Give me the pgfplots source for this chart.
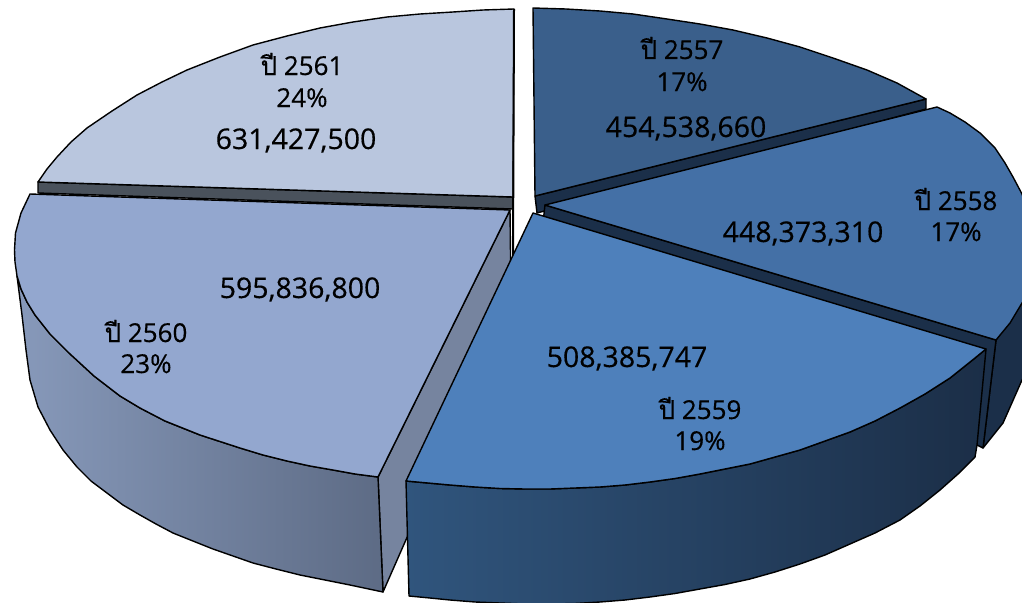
\documentclass[border=0pt]{standalone}
\usepackage{pgfplots}
\pgfplotsset{compat=1.18}
\usepackage{fontspec}
\setmainfont[FakeBold=0.4]{Open Sans}
\newfontfamily\thaifont[Script=Thai,FakeBold=0.4]{Loma}
\definecolor{topA}{HTML}{3A5F8B}
\definecolor{topB}{HTML}{4470A6}
\definecolor{topC}{HTML}{4E80BB}
\definecolor{topD}{HTML}{93A7CF}
\definecolor{topE}{HTML}{B9C6DE}
\definecolor{wallDark}{HTML}{1B2F49}
\definecolor{wallD}{HTML}{76849F}
\definecolor{wallE}{HTML}{4A525C}
\definecolor{sideCl}{HTML}{30557D}
\definecolor{sideCr}{HTML}{1B2E47}
\definecolor{sideDl}{HTML}{8799BA}
\definecolor{sideDr}{HTML}{5D6B85}
\newcommand{\lbl}[1]{\fontsize{28.5}{30}\selectfont #1}
\newcommand{\sml}[1]{\fontsize{26}{28}\selectfont #1}
\newcommand{\yr}[1]{\fontsize{26}{28}\selectfont{\thaifont ปี} #1}
\begin{document}
\begin{tikzpicture}
\useasboundingbox (0,0) rectangle (1022pt,602pt);
\begin{axis}[
  at={(0,0)}, anchor=south west,
  scale only axis, width=1022pt, height=602pt,
  xmin=0, xmax=1022, ymin=0, ymax=602, y dir=reverse,
  hide axis, clip=true, no markers,
  every axis plot/.append style={line width=1.4pt, line join=round, draw=black},
  every node/.append style={text=black, inner sep=0pt},
]
% 2561 radial wall and top
\addplot[fill=wallE] coordinates {(513,197)(38,182)(38,193)(513,209)} --cycle;
\addplot[fill=topE] coordinates {(513,197)(514,9)(483,10)(453,12)(420,14)(387,17)(353,22)(320,28)(287,36)(253,45)(220,57)(187,70)(162,82)(137,95)(112,111)(87,128)(71,142)(57,157)(47,169)(38,182)} --cycle;
\addplot[line width=2pt] coordinates {(514,9)(513,258)};
% 2560 walls and top
\addplot[fill=wallD] coordinates {(510,210)(378,477)(383,592)(405,542)(511,300)} --cycle;
\addplot[left color=sideDl, right color=sideDr] coordinates {(17,276)(22,315)(26,350)(30,380)(38,407)(50,430)(63,450)(77,467)(91,481)(107,493)(123,505)(140,515)(156,524)(173,533)(193,541)(213,549)(233,556)(253,563)(276,569)(300,575)(325,580)(350,585)(383,592)(378,477)(355,474)(333,470)(310,466)(287,461)(263,455)(240,448)(200,435)(165,421)(140,408)(120,396)(94,376)(69,353)(50,334)(35,315)(27,302)(21,289)} --cycle;
\addplot[fill=topD] coordinates {(510,210)(30,194)(21,213)(15.5,233)(14.5,250)(15,262)(17,276)(21,289)(27,302)(35,315)(50,334)(69,353)(94,376)(120,396)(140,408)(165,421)(200,435)(240,448)(263,455)(287,461)(310,466)(333,470)(355,474)(378,477)} --cycle;
% 2557 wall and top
\addplot[fill=wallDark] coordinates {(535,196)(926,99)(926,109)(537,213)} --cycle;
\addplot[fill=topA] coordinates {(535,196)(533,8)(566,9)(600,11)(633,14)(667,19)(700,24)(733,30)(767,38)(800,47)(833,58)(867,70)(897,83)(926,99)} --cycle;
% 2558 walls and top
\addplot[fill=wallDark] coordinates {(996,340)(1022,303)(1040,290)(1040,350)(1022,380)(1003,423)(983,448)} --cycle;
\addplot[fill=wallDark] coordinates {(545,205)(996,340)(983,448)(977,445)(540,250)} --cycle;
\addplot[fill=topB] coordinates {(545,205)(937,107)(950,113)(965,122)(980,133)(995,148)(1005,163)(1013,177)(1022,194)(1035,230)(1040,260)(1035,285)(1022,303)(1010,323)(996,340)} --cycle;
% 2559 walls and top
\addplot[left color=sideCl, right color=sideCr] coordinates {(406,481)(409,596)(430,598)(450,600)(475,602)(500,603)(525,604)(550,604)(575,603.5)(600,602)(625,600)(650,597)(675,593.5)(700,589)(725,584.5)(750,579)(775,572)(800,564)(825,555)(850,544)(875,533)(900,520)(920,506)(940,490)(958,474)(975,457)(977,445)(986,349)(975,358)(950,378)(925,394)(900,408)(875,421)(850,432)(825,441)(800,450)(775,457)(750,464)(725,469)(700,474)(675,478.5)(650,482)(625,485)(600,487)(575,488)(550,489)(525,489)(500,488.5)(475,487)(450,485)(428,483)} --cycle;
\addplot[fill=topC] coordinates {(533,213)(986,349)(975,358)(950,378)(925,394)(900,408)(875,421)(850,432)(825,441)(800,450)(775,457)(750,464)(725,469)(700,474)(675,478.5)(650,482)(625,485)(600,487)(575,488)(550,489)(525,489)(500,488.5)(475,487)(450,485)(428,483)(406,481)} --cycle;
% labels
\node[anchor=base] at (axis cs:682,59) {\yr{2557}};
\node[anchor=base] at (axis cs:682,91) {\sml{17\%}};
\node[anchor=base] at (axis cs:686,137) {\lbl{454,538,660}};
\node[anchor=base] at (axis cs:956,210) {\yr{2558}};
\node[anchor=base] at (axis cs:956,241) {\sml{17\%}};
\node[anchor=base] at (axis cs:803,242) {\lbl{448,373,310}};
\node[anchor=base] at (axis cs:700,419) {\yr{2559}};
\node[anchor=base] at (axis cs:700,450) {\sml{19\%}};
\node[anchor=base] at (axis cs:627,367) {\lbl{508,385,747}};
\node[anchor=base] at (axis cs:146,342) {\yr{2560}};
\node[anchor=base] at (axis cs:146,373) {\sml{23\%}};
\node[anchor=base] at (axis cs:300,298) {\lbl{595,836,800}};
\node[anchor=base] at (axis cs:302,75) {\yr{2561}};
\node[anchor=base] at (axis cs:302,107) {\sml{24\%}};
\node[anchor=base] at (axis cs:296,149) {\lbl{631,427,500}};
\end{axis}
\end{tikzpicture}
\end{document}
